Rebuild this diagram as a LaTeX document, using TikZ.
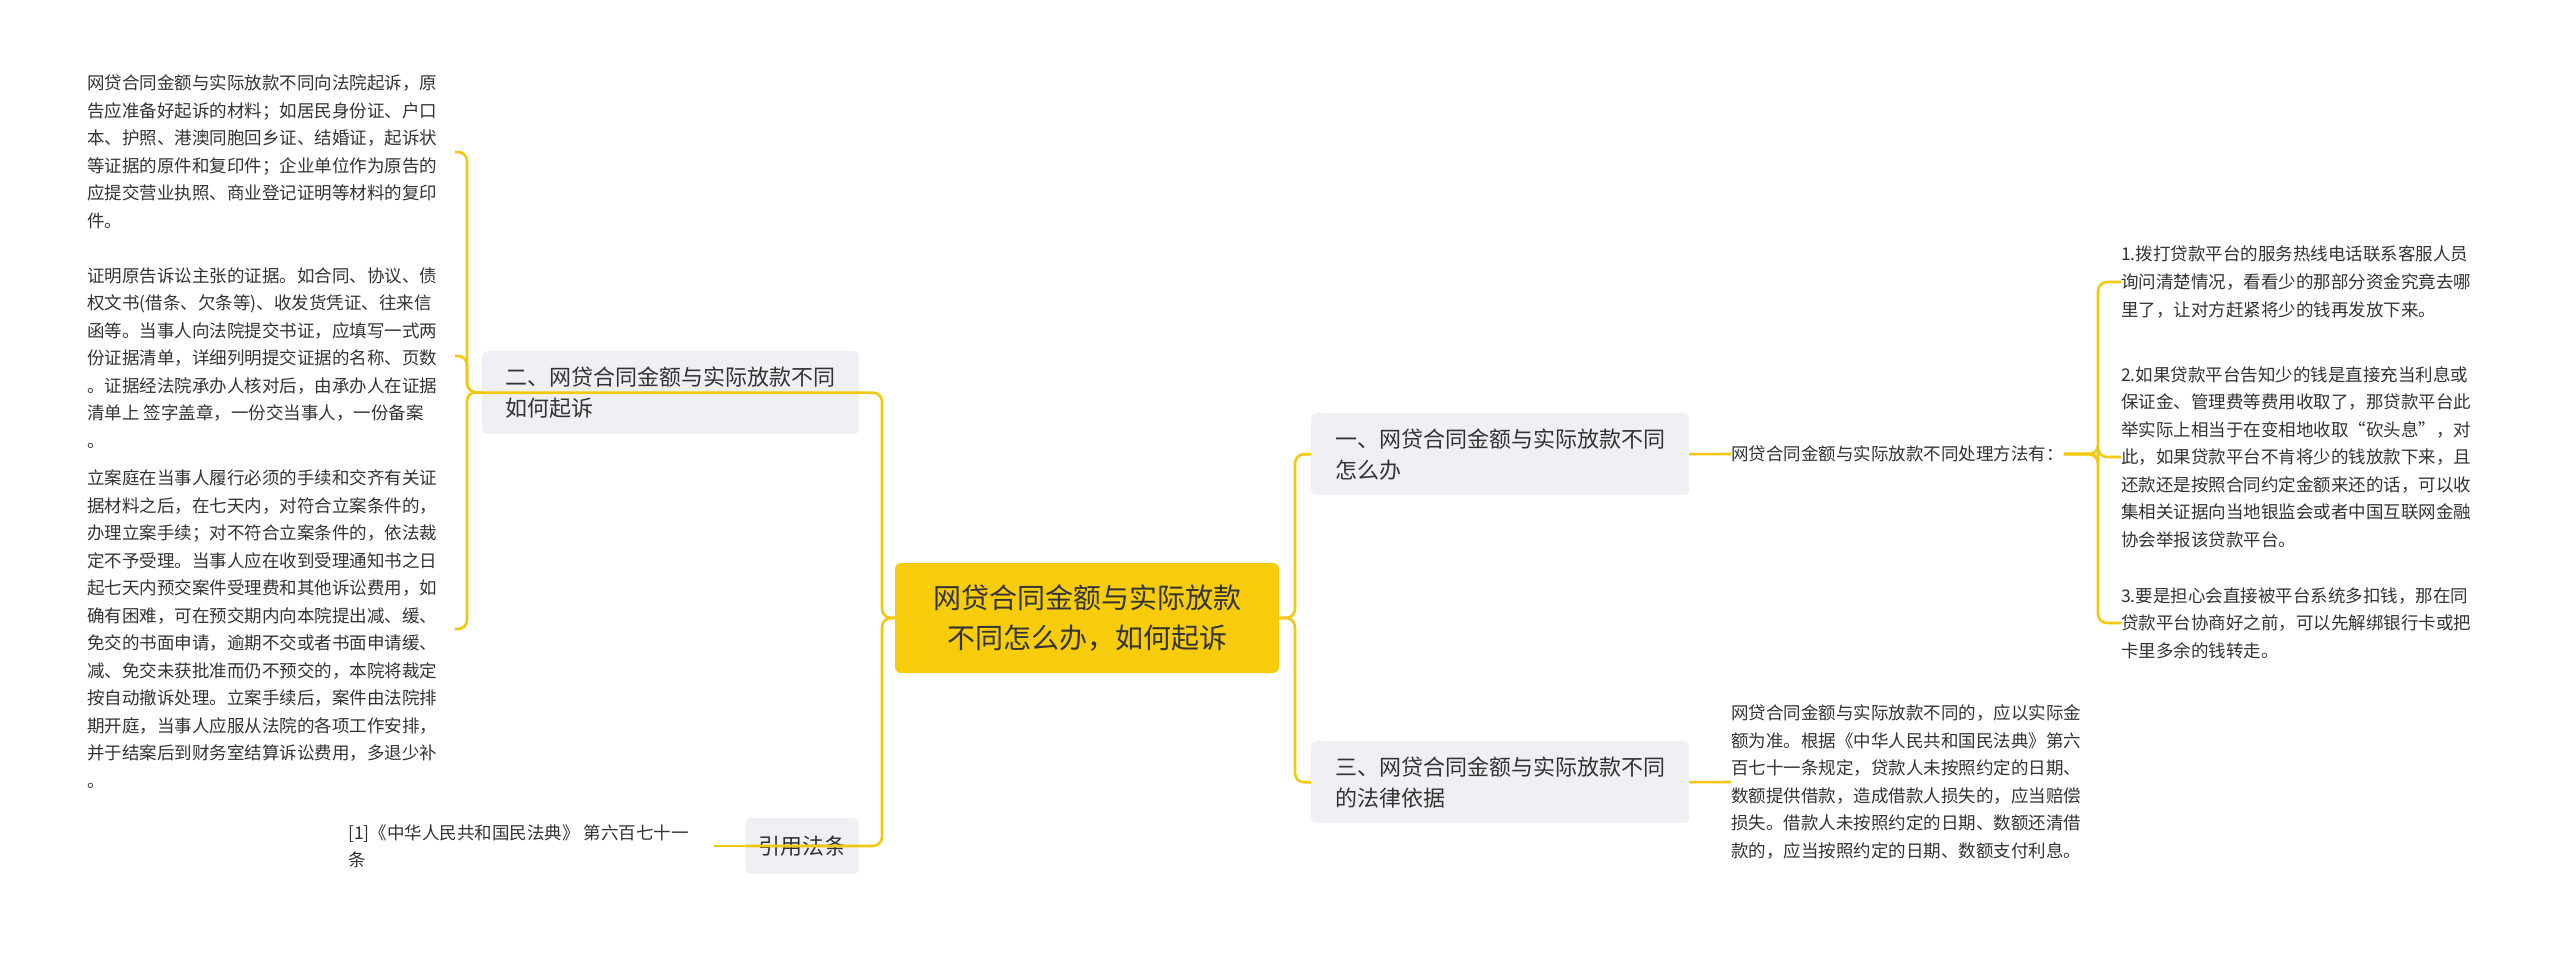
\documentclass[tikz,border=0pt]{standalone}
\usepackage{fontspec}
\setmainfont{Noto Sans CJK SC}
\begin{document}
\begin{tikzpicture}[x=1pt,y=-1pt,
  link/.style={draw=linkc,line width=2.6pt,rounded corners=9pt},
  leaf/.style={inner sep=0pt,align=left,font=\fontsize{17.5}{27.5}\selectfont,text=txt},
  branch/.style={fill=boxc,rounded corners=5pt,inner xsep=10pt,inner ysep=6pt,align=left,font=\fontsize{22}{31}\selectfont,text=txt,anchor=north west}]
\definecolor{linkc}{HTML}{F2C811}
\definecolor{boxc}{HTML}{EEF0F3}
\definecolor{txt}{HTML}{333333}
\definecolor{mainc}{HTML}{F7CC0A}
\useasboundingbox (0,0) rectangle (2560,954);
\fill[white] (0,0) rectangle (2560,954);
% centre
\node[fill=mainc,rounded corners=6pt,minimum width=384pt,minimum height=110pt,align=center,font=\fontsize{28}{40}\selectfont,text=txt] (c) at (1087,618) {网贷合同金额与实际放款\\不同怎么办，如何起诉};
% branches
\node[branch,minimum width=377pt,minimum height=83pt] (b2) at (482,351) {二、网贷合同金额与实际放款不同\\如何起诉};
\node[branch,minimum width=113pt,minimum height=56pt,anchor=center,align=center] (b4) at (802,846) {引用法条};
\node[branch,minimum width=378pt,minimum height=82pt] (b1) at (1311,413) {一、网贷合同金额与实际放款不同\\怎么办};
\node[branch,minimum width=378pt,minimum height=82pt] (b3) at (1311,741) {三、网贷合同金额与实际放款不同\\的法律依据};
% left leaves
\node[leaf,anchor=west] (la) at (87,152) {网贷合同金额与实际放款不同向法院起诉，原\\告应准备好起诉的材料；如居民身份证、户口\\本、护照、港澳同胞回乡证、结婚证，起诉状\\等证据的原件和复印件；企业单位作为原告的\\应提交营业执照、商业登记证明等材料的复印\\件。};
\node[leaf,anchor=west] (lb) at (87,358) {证明原告诉讼主张的证据。如合同、协议、债\\权文书(借条、欠条等)、收发货凭证、往来信\\函等。当事人向法院提交书证，应填写一式两\\份证据清单，详细列明提交证据的名称、页数\\。证据经法院承办人核对后，由承办人在证据\\清单上 签字盖章，一份交当事人，一份备案\\。};
\node[leaf,anchor=west] (lc) at (87,629) {立案庭在当事人履行必须的手续和交齐有关证\\据材料之后，在七天内，对符合立案条件的，\\办理立案手续；对不符合立案条件的，依法裁\\定不予受理。当事人应在收到受理通知书之日\\起七天内预交案件受理费和其他诉讼费用，如\\确有困难，可在预交期内向本院提出减、缓、\\免交的书面申请，逾期不交或者书面申请缓、\\减、免交未获批准而仍不预交的，本院将裁定\\按自动撤诉处理。立案手续后，案件由法院排\\期开庭，当事人应服从法院的各项工作安排，\\并于结案后到财务室结算诉讼费用，多退少补\\。};
\node[leaf,anchor=west] (ld) at (348,846) {[1]《中华人民共和国民法典》 第六百七十一\\条};
% right leaves
\node[leaf,anchor=west] (ra) at (1731,454) {网贷合同金额与实际放款不同处理方法有：};
\node[leaf,anchor=west] (rb) at (1731,782) {网贷合同金额与实际放款不同的，应以实际金\\额为准。根据《中华人民共和国民法典》第六\\百七十一条规定，贷款人未按照约定的日期、\\数额提供借款，造成借款人损失的，应当赔偿\\损失。借款人未按照约定的日期、数额还清借\\款的，应当按照约定的日期、数额支付利息。};
\node[leaf,anchor=west] (r1) at (2121,282) {1.拨打贷款平台的服务热线电话联系客服人员\\询问清楚情况，看看少的那部分资金究竟去哪\\里了，让对方赶紧将少的钱再发放下来。};
\node[leaf,anchor=west] (r2) at (2121,457) {2.如果贷款平台告知少的钱是直接充当利息或\\保证金、管理费等费用收取了，那贷款平台此\\举实际上相当于在变相地收取“砍头息”，对\\此，如果贷款平台不肯将少的钱放款下来，且\\还款还是按照合同约定金额来还的话，可以收\\集相关证据向当地银监会或者中国互联网金融\\协会举报该贷款平台。};
\node[leaf,anchor=west] (r3) at (2121,623) {3.要是担心会直接被平台系统多扣钱，那在同\\贷款平台协商好之前，可以先解绑银行卡或把\\卡里多余的钱转走。};
% coordinates
\coordinate (ca) at (455,152);
\coordinate (cb) at (455,356);
\coordinate (cc) at (455,629);
% connectors
\draw[link] (c.west) -- (882,618) |- (b2.west);
\draw[link] (c.west) -- (882,618) |- (b4.west);
\draw[link] (c.east) -- (1295,618) |- (b1.west);
\draw[link] (c.east) -- (1295,618) |- (b3.west);
\draw[link] (b2.west) -- (467,392) |- (ca);
\draw[link] (b2.west) -- (467,392) |- (cb);
\draw[link] (b2.west) -- (467,392) |- (cc);
\draw[link] (b4.west) -- (ld.east -| 714,0);
\draw[link] (b1.east) -- (ra.west);
\draw[link] (b3.east) -- (rb.west);
\draw[link] (ra.east) -- (2098,454) |- (r1.west);
\draw[link] (ra.east) -- (2098,454) |- (r2.west);
\draw[link] (ra.east) -- (2098,454) |- (r3.west);
\end{tikzpicture}
\end{document}
